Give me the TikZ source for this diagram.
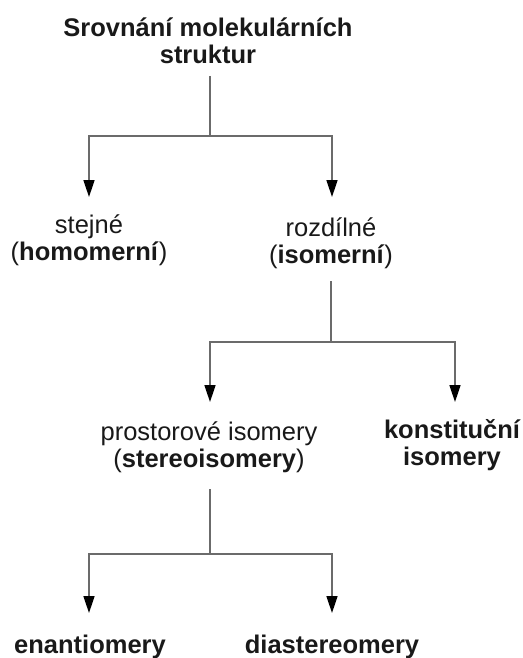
\documentclass[tikz,border=0pt]{standalone}
\usepackage{fontspec}
\setmainfont{Liberation Sans}
\usetikzlibrary{arrows.meta}
\newcommand\lnst{\rule[-6pt]{0pt}{25pt}}
\begin{document}
\begin{tikzpicture}[x=1pt,y=-1pt,
  lbl/.style={inner sep=0pt, align=center, anchor=north, text=black!90,
    font=\fontsize{25.5}{27}\selectfont},
  conn/.style={draw=black!58, line width=1.6pt},
  arr/.style={conn, -{Triangle[length=17pt,width=11pt,color=black]}}]
\useasboundingbox (0,0) rectangle (522,658);

% nodes
\node[lbl, font=\fontsize{25.5}{27.5}\selectfont\bfseries] (title) at (208,17)
  {\lnst Srovnání molekulárních\\\lnst struktur};
\node[lbl] (homo) at (89,214) {\lnst stejné\\\lnst(\textbf{homomerní})};
\node[lbl] (iso) at (331,217) {\lnst rozdílné\\\lnst(\textbf{isomerní})};
\node[lbl] (stereo) at (209,421) {\lnst prostorové isomery\\\lnst(\textbf{stereoisomery})};
\node[lbl, font=\fontsize{25.5}{27}\selectfont\bfseries] (konst) at (452,419)
  {\lnst konstituční\\\lnst isomery};
\node[lbl, anchor=base, font=\fontsize{25.5}{27}\selectfont\bfseries] (enant) at (90,653) {enantiomery};
\node[lbl, anchor=base, font=\fontsize{25.5}{27}\selectfont\bfseries] (diast) at (332,653) {diastereomery};

% branch points
\coordinate (b1) at (210,136);
\coordinate (b2) at (331,342);
\coordinate (b3) at (210,554);

% connectors
\draw[conn] (title.south -| b1) ++(0,6) -- (b1);
\draw[arr] (b1) -| (homo.north |- 0,197);
\draw[arr] (b1) -| (332,197);

\draw[conn] (iso.south -| b2) ++(0,12) -- (b2);
\draw[arr] (b2) -| (210,402);
\draw[arr] (b2) -| (455,402);

\draw[conn] (stereo.south -| b3) ++(0,16) -- (b3);
\draw[arr] (b3) -| (89,613);
\draw[arr] (b3) -| (332,613);
\end{tikzpicture}
\end{document}
